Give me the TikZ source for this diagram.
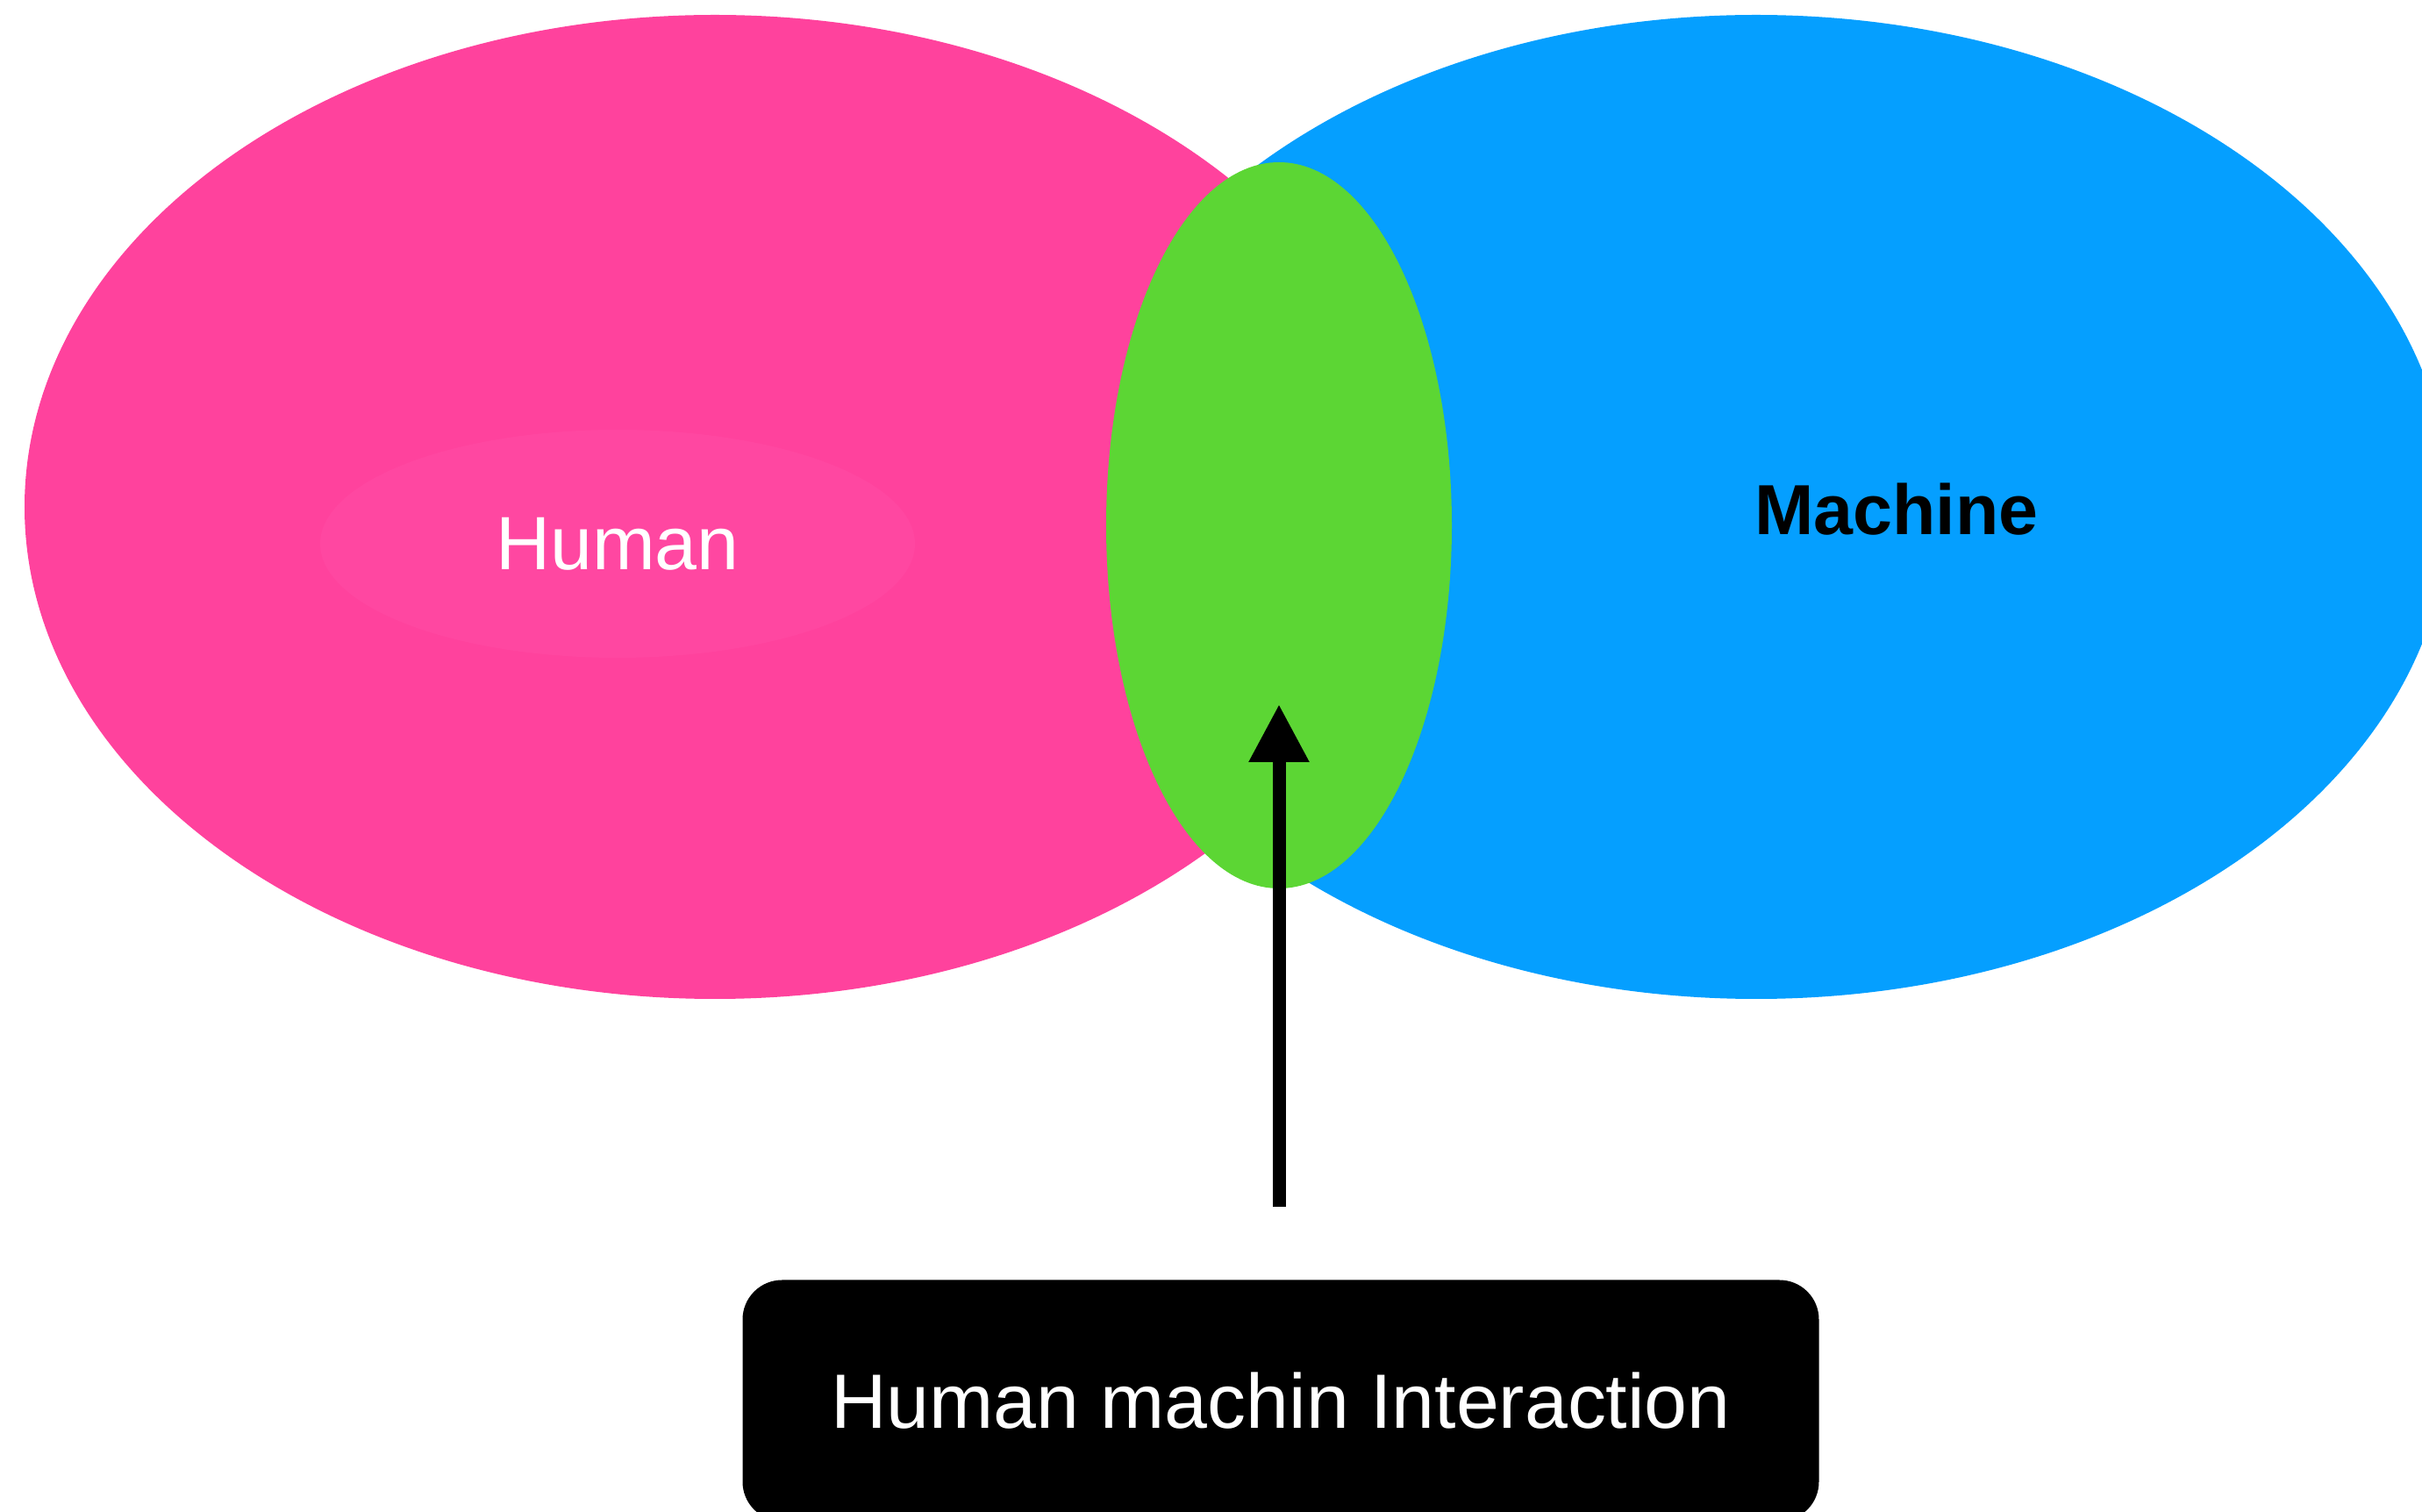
\documentclass[tikz,border=0pt]{standalone}
\usepackage{fontspec}
\setmainfont{Liberation Sans}
\usetikzlibrary{shapes.geometric,arrows.meta}

\definecolor{humanpink}{RGB}{255,66,157}
\definecolor{innerpink}{RGB}{255,71,161}
\definecolor{machineblue}{RGB}{5,159,255}
\definecolor{overlapgreen}{RGB}{92,214,52}

\tikzset{
  blob/.style={ellipse, draw=none, inner sep=0pt},
  arr/.style={-{Triangle[width=0.65cm,length=0.66cm]}, line width=0.15cm}
}

\begin{document}
\begin{tikzpicture}

\useasboundingbox (0,0) rectangle (27.61,-17.24);
\clip (0,0) rectangle (27.61,-17.24);

% nodes
\node [blob, fill=machineblue, minimum width=15.80cm, minimum height=11.22cm] (machine) at (20.02, -5.78) {};
\node [blob, fill=humanpink, minimum width=15.74cm, minimum height=11.22cm] (human) at (8.15, -5.78) {};
\node [blob, fill=innerpink, minimum width=6.78cm, minimum height=2.60cm, text=white,
       font=\fontsize{24.5pt}{28pt}\selectfont] (humanlabel) at (7.04, -6.20) {Human};
\node [font=\fontsize{23pt}{27pt}\selectfont\bfseries] (machinelabel) at (21.62, -5.81) {Machine};
\node [blob, fill=overlapgreen, minimum width=3.94cm, minimum height=8.28cm] (overlap) at (14.58, -5.99) {};
\node [fill=black, rounded corners=0.45cm, minimum width=12.27cm, minimum height=2.75cm, text=white,
       font=\fontsize{25pt}{30pt}\selectfont] (hmi) at (14.60, -15.97) {Human machin Interaction};
\coordinate (tip) at (14.58, -8.03);

% arrows
\draw [arr, shorten <=0.83cm] (hmi.north -| tip) -- (tip);

\end{tikzpicture}
\end{document}
